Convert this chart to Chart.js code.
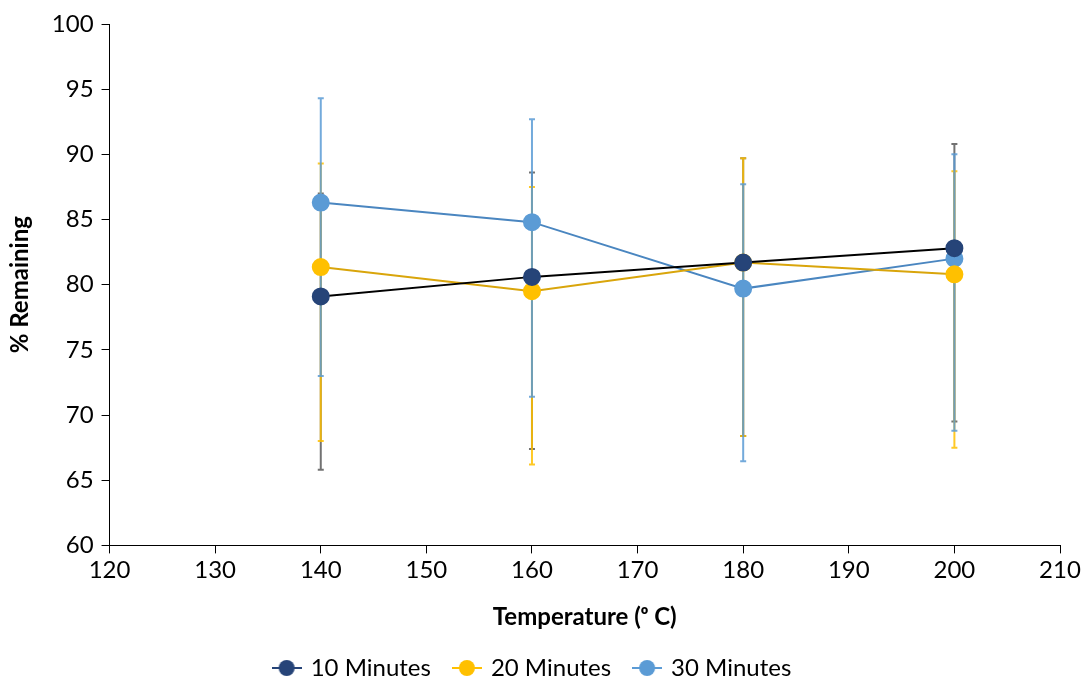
<!DOCTYPE html>
<html>
<head>
<meta charset="utf-8">
<script src="https://cdn.jsdelivr.net/npm/chart.js@4"></script>
<style>
  html, body { margin: 0; padding: 0; background: #fff; }
  #wrap { width: 1086px; height: 679px; }
</style>
</head>
<body>
<div id="wrap"><canvas id="chart"></canvas></div>
<script>
const temps = [140, 160, 180, 200];
const seriesNames = ['10 Minutes', '20 Minutes', '30 Minutes'];

const tenMin = [79.1, 80.6, 81.7, 82.8];
const tenPlus = [7.9, 8.0, 8.0, 8.0];
const tenMinus = [13.3, 13.2, 13.3, 13.3];

const twentyMin = [81.35, 79.5, 81.7, 80.8];
const twentyPlus = [7.95, 8.0, 8.0, 7.9];
const twentyMinus = [13.35, 13.3, 13.3, 13.3];

const thirtyMin = [86.3, 84.8, 79.7, 82.0];
const thirtyPlus = [8.0, 7.9, 8.0, 8.0];
const thirtyMinus = [13.3, 13.4, 13.25, 13.2];

const xTicks = { min: 120, max: 210, step: 10 };
const yTicks = { min: 60, max: 100, step: 5 };

const FONT = 'Lato, "Liberation Sans", sans-serif';

function points(vals, plus, minus) {
  return vals.map((v, i) => ({ x: temps[i], y: v, plus: plus[i], minus: minus[i] }));
}

// small canvas used as legend marker: line with a dot through it
function legendIcon(color) {
  const c = document.createElement('canvas');
  c.width = 30; c.height = 18;
  const g = c.getContext('2d');
  g.strokeStyle = color;
  g.lineWidth = 2;
  g.beginPath(); g.moveTo(0, 9); g.lineTo(30, 9); g.stroke();
  g.fillStyle = color;
  g.beginPath(); g.arc(15, 9, 8, 0, Math.PI * 2); g.fill();
  return c;
}

const errorBars = {
  id: 'errorBars',
  beforeDatasetsDraw(chart) {
    const { ctx, scales: { x, y } } = chart;
    ctx.save();
    chart.data.datasets.forEach(ds => {
      ctx.strokeStyle = ds.errorColor;
      ctx.lineWidth = 2;
      ds.data.forEach(p => {
        const px = x.getPixelForValue(p.x);
        const top = y.getPixelForValue(p.y + p.plus);
        const bot = y.getPixelForValue(p.y - p.minus);
        ctx.beginPath();
        ctx.moveTo(px, top); ctx.lineTo(px, bot);
        ctx.moveTo(px - 3, top); ctx.lineTo(px + 3, top);
        ctx.moveTo(px - 3, bot); ctx.lineTo(px + 3, bot);
        ctx.stroke();
      });
    });
    ctx.restore();
  }
};

const styles = [
  { line: '#000000', fill: '#264478', err: 'rgba(89,89,89,0.85)' },
  { line: '#D9A50B', fill: '#FFC000', err: 'rgba(255,192,0,0.85)' },
  { line: '#4A86C0', fill: '#5B9BD5', err: 'rgba(91,155,213,0.85)' }
];

const seriesData = [
  points(tenMin, tenPlus, tenMinus),
  points(twentyMin, twentyPlus, twentyMinus),
  points(thirtyMin, thirtyPlus, thirtyMinus)
];

new Chart(document.getElementById('chart'), {
  type: 'line',
  data: {
    datasets: seriesData.map((d, i) => ({
      label: seriesNames[i],
      data: d,
      borderColor: styles[i].line,
      borderWidth: 2,
      backgroundColor: styles[i].fill,
      pointBackgroundColor: styles[i].fill,
      pointBorderColor: styles[i].fill,
      pointRadius: 8,
      pointHoverRadius: 8,
      errorColor: styles[i].err
    }))
  },
  options: {
    responsive: true,
    maintainAspectRatio: false,
    animation: false,
    layout: { padding: { top: 24, right: 26, left: 6, bottom: -11 } },
    scales: {
      x: {
        type: 'linear',
        min: xTicks.min,
        max: xTicks.max,
        ticks: { stepSize: xTicks.step, color: '#000', font: { family: FONT, size: 24 }, padding: 2 },
        grid: { drawOnChartArea: false, tickLength: 8, color: '#000', tickColor: '#000' },
        border: { color: '#000', width: 1 },
        title: {
          display: true,
          text: 'Temperature (ᵒ C)',
          color: '#000',
          font: { family: FONT, size: 24, weight: 'bold' },
          padding: { top: 17, bottom: 0 }
        }
      },
      y: {
        min: yTicks.min,
        max: yTicks.max,
        ticks: { stepSize: yTicks.step, color: '#000', font: { family: FONT, size: 24 }, padding: 8 },
        grid: { drawOnChartArea: false, tickLength: 8, color: '#000', tickColor: '#000' },
        border: { color: '#000', width: 1 },
        title: {
          display: true,
          text: '% Remaining',
          color: '#000',
          font: { family: FONT, size: 24, weight: 'bold' },
          padding: { top: 0, bottom: 9 }
        }
      }
    },
    plugins: {
      legend: {
        position: 'bottom',
        labels: {
          usePointStyle: true,
          color: '#000',
          font: { family: FONT, size: 24 },
          padding: 24,
          generateLabels(chart) {
            return chart.data.datasets.map((ds, i) => ({
              text: ds.label,
              pointStyle: legendIcon(styles[i].fill),
              fontColor: '#000',
              lineWidth: 0,
              strokeStyle: 'transparent',
              datasetIndex: i
            }));
          }
        }
      },
      tooltip: { enabled: false }
    }
  },
  plugins: [errorBars]
});
</script>
</body>
</html>
